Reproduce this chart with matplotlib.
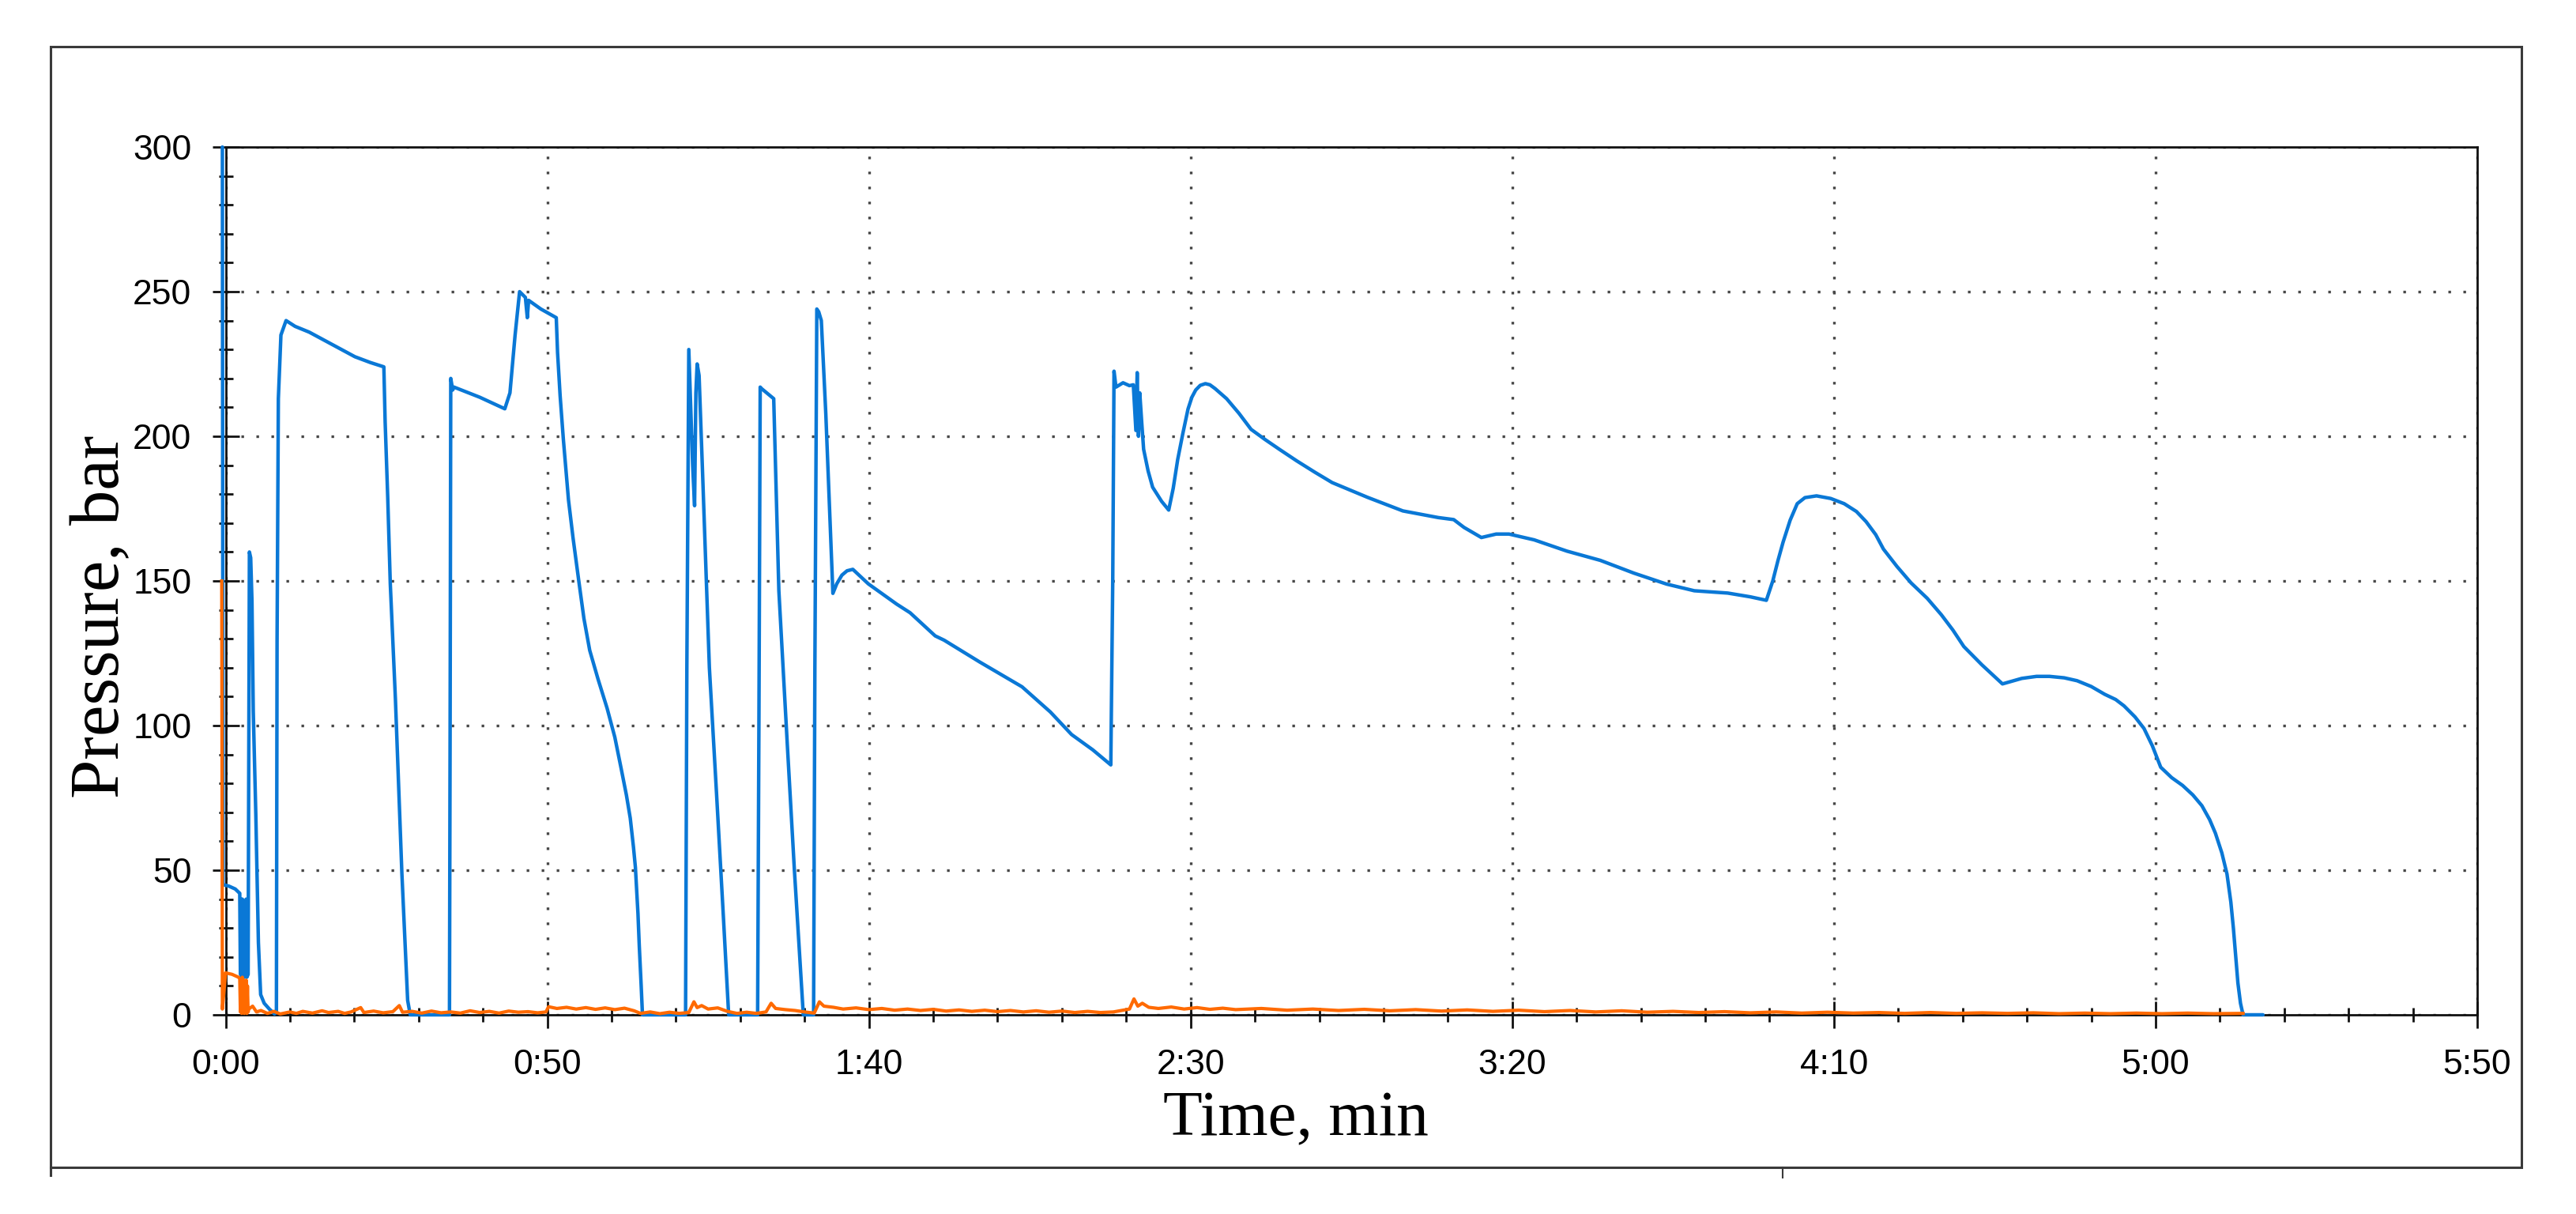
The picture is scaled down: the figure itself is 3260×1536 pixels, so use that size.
import matplotlib
matplotlib.use('Agg')
import matplotlib.pyplot as plt
from matplotlib.ticker import MultipleLocator
from matplotlib.patches import Rectangle
from matplotlib.lines import Line2D

# ---------------- data (time in s, pressure in bar) ----------------
blue_t = [-0.5, -0.4, 0.5, 1.5, 2.2, 2.3, 2.4, 2.5, 2.6, 2.7, 2.8, 2.9, 3.0, 3.1, 3.2, 3.3, 3.5,
          3.7, 3.9, 4.1, 4.3, 4.7, 5.1, 5.45, 6.0, 6.8, 7.6, 7.9, 8.0, 8.2, 8.6, 9.4, 10.8, 13,
          15.5, 18, 20.1, 22.5, 24.6, 24.8, 25.2, 25.6, 26.4, 27.4, 28.3, 28.7, 34.8, 34.9, 35.0,
          35.3, 35.5, 39.5, 43.4, 44.2, 45.0, 45.7, 46.6, 46.9, 47.1, 49, 51.4,
          51.6, 52.0, 52.5, 53.3, 54.0, 54.9, 55.7, 56.6, 57.9, 59.3, 60.5, 61.5, 62.3, 62.9,
          63.4, 63.7, 64.1, 64.3, 64.6, 64.8,
          71.5, 71.7, 72.0, 72.3, 72.6, 72.9, 73.1, 73.3, 73.6, 74.1, 75.2, 76.3, 77.4, 78.2,
          82.7, 82.9, 83.1, 83.3, 85.2, 86.0, 87.3, 88.4, 89.8,
          91.4, 91.6, 91.9, 92.2, 92.6, 93.3, 94.4, 95.0, 95.8, 96.6, 97.5, 98.7, 99.9,
          104.3, 106.4, 110.3, 111.7, 117.2, 123.8, 128.2, 131.5, 134.8, 137.6, 137.9, 138.1,
          138.4, 139.5, 140.5, 141.1, 141.5, 141.7, 141.9, 142.1, 142.4, 142.7, 143.4, 144.1,
          145.5, 146.6, 147.3, 148, 148.8, 149.6, 150.2, 150.8, 151.5, 152.3, 153.0, 153.8,
          155.6, 157.5, 159.4, 161.5, 163.8, 166.5, 169.3, 172, 177.5, 183, 188.5,
          190.9, 192.5, 195.2, 197.5, 199.5, 203.4, 208.5, 213.7, 218.9, 224, 228.3, 233.5, 237,
          239.5, 240.5, 241.3, 242.1, 243.2, 244.3, 245.5, 247.3, 249.5, 251.6, 253.5, 255,
          256.5, 257.7, 259.8, 262, 264.5, 266.7, 268.5, 270.2, 273, 276.2,
          279.2, 281.5, 283.5, 285.8, 287.8, 290, 292.1, 293.8, 295.1, 296.8, 298.2,
          299.5, 300.8, 302.5, 304.2, 305.8, 307.2, 308.4, 309.3, 310.3, 311.1, 311.7, 312.1,
          312.5, 312.8, 313.2, 313.6, 316.7]
blue_p = [300, 45, 44.5, 43.5, 42, 14, 40, 13, 40, 14, 39, 13, 39, 14, 40, 13, 14,
          160, 158, 143, 105, 69, 25, 7, 4, 2, 0.3, 1, 129, 213, 235, 240, 238, 236,
          233, 230, 227.5, 225.5, 224, 205, 179, 149, 109, 49, 5, 0, 0, 100, 220,
          216, 217, 213.5, 209.5, 215, 235, 250, 248, 241, 247, 244, 241,
          229, 214, 199, 178, 165, 150, 137, 126, 116, 106, 96, 85, 76, 68,
          58, 51, 35, 24, 10, 0,
          0, 120, 230, 210, 190, 176, 215, 225, 221, 190, 120, 77, 33, 0,
          0, 100, 217, 216.5, 213, 146.6, 94, 50.6, 0,
          0, 120, 244, 243, 240, 207.7, 145.7, 149, 152, 153.5, 154, 151.5, 149,
          142, 139, 131, 129.5, 122, 113.4, 104.7, 96.9, 91.6, 86.4, 150, 222.5,
          217, 218.5, 217.5, 217.8, 202, 222, 200, 215, 205, 195.5, 188, 182.4,
          177.5, 174.5, 182, 192, 201, 209.4, 213.5, 216, 217.6, 218.2, 217.8, 216.5,
          213, 208, 202.4, 199, 195.5, 191.5, 187.6, 184, 178.9, 174.2, 171.9,
          171.2, 168.5, 165, 166.2, 166.2, 164.2, 160.3, 157.1, 152.7, 148.9, 146.6, 145.8, 144.5,
          143.3, 150, 157, 163.4, 171, 176.7, 178.8, 179.4, 178.5, 176.7, 174, 170.5,
          166, 161, 155, 149.3, 144, 138.3, 133, 127.3, 121, 114.4,
          116.3, 117, 117, 116.5, 115.5, 113.5, 110.8, 109, 106.8, 103, 99,
          93, 85.6, 82, 79.3, 76, 72.3, 67.5, 62.8, 56, 48.7, 39, 29.9,
          19, 11, 4, 0, 0]

orange_t = [-0.6, -0.5, 0.0, 1.0, 2.0, 2.2, 2.3, 2.4, 2.5, 2.6, 2.7, 2.8, 2.9, 3.0, 3.1, 3.2,
            3.3, 3.4, 3.5, 3.6, 4.2, 4.8, 5.5, 6.5, 7.5, 8.5, 10, 11, 12, 13.5, 15, 16, 17.5,
            18.5, 19.5, 21, 21.5, 23, 24.5, 26, 27, 27.5, 29, 30.5, 32, 33.5, 35, 36.5, 38,
            39.5, 41, 42.5, 44, 45.5, 47, 48.5, 49.8, 50.2, 51.5, 53, 54.5, 56, 57.5, 59, 60.5,
            62, 63.5, 64.5, 66, 67.5, 69, 70.5, 72, 72.8, 73.3, 74, 75, 76.5, 78, 79.5, 81,
            82.5, 84, 84.8, 85.5, 87, 88.5, 90, 91.5, 92.3, 93, 94.5, 96, 98, 100, 102, 104,
            106, 108, 110, 112, 114, 116, 118, 120, 122, 124, 126, 128, 130, 132, 134, 136, 138,
            140.5, 141.2, 141.8, 142.5, 143.5, 145, 147, 149, 151, 153, 155, 157, 161, 165, 169,
            173, 177, 181, 185, 189, 193, 197, 201, 205, 209, 213, 217, 221, 225, 229, 233, 237,
            241, 245, 249, 253, 257, 261, 265, 269, 273, 277, 281, 285, 289, 293, 297, 301, 305,
            309, 313.6]
orange_p = [150, 2, 14.5, 14, 13, 12.5, 1, 12, 0.5, 13, 1, 12, 0.5, 11, 1, 12,
            0.5, 10, 1, 2, 3, 1, 1.5, 0.5, 1.2, 0.3, 1, 0.5, 1.2, 0.6, 1.4, 0.8, 1.2,
            0.5, 1.0, 2.5, 0.8, 1.3, 0.7, 1.1, 3.2, 0.9, 1.2, 0.6, 1.3, 0.7, 1.0, 0.6, 1.4,
            0.8, 1.2, 0.6, 1.3, 0.9, 1.1, 0.7, 1.0, 2.8, 2.2, 2.6, 2.0, 2.5, 1.9, 2.4, 1.8,
            2.3, 1.4, 0.5, 1.0, 0.4, 0.9, 0.5, 0.8, 4.5, 2.5, 3.2, 2.0, 2.4, 1.2, 0.5, 0.9,
            0.5, 1.0, 4.0, 2.2, 1.8, 1.5, 1.0, 0.6, 4.5, 3.0, 2.6, 2.0, 2.4, 1.8, 2.2, 1.6,
            2.0, 1.5, 1.9, 1.3, 1.7, 1.2, 1.6, 1.1, 1.5, 1.0, 1.4, 0.9, 1.3, 0.8, 1.2, 0.8, 1.0,
            2.0, 5.5, 3.0, 4.0, 2.6, 2.2, 2.7, 2.0, 2.5, 1.9, 2.3, 1.8, 2.2, 1.6, 2.0,
            1.5, 1.9, 1.4, 1.8, 1.3, 1.7, 1.2, 1.6, 1.1, 1.5, 1.0, 1.4, 0.9, 1.2, 0.8, 1.1, 0.7,
            1.0, 0.6, 0.9, 0.6, 0.8, 0.5, 0.8, 0.5, 0.7, 0.5, 0.7, 0.4, 0.6, 0.4, 0.6, 0.4, 0.6,
            0.4, 0.5]

x_ticks = [0, 50, 100, 150, 200, 250, 300, 350]
x_tick_labels = ['0:00', '0:50', '1:40', '2:30', '3:20', '4:10', '5:00', '5:50']
y_ticks = [0, 50, 100, 150, 200, 250, 300]
x_label = 'Time, min'
y_label = 'Pressure, bar'

# ---------------- figure ----------------
W, H = 3260, 1536
fig = plt.figure(figsize=(W / 100, H / 100), dpi=100)
fig.patch.set_facecolor('white')

ax_l, ax_r, ax_t, ax_b = 285.5, 3135, 186, 1284
ax = fig.add_axes([ax_l / W, 1 - ax_b / H, (ax_r - ax_l) / W, (ax_b - ax_t) / H])

ax.plot(blue_t, blue_p, color='#0A78D6', lw=3.2, zorder=3, clip_on=False,
        solid_joinstyle='round', solid_capstyle='round')
ax.plot(orange_t, orange_p, color='#FF6A00', lw=3.0, zorder=3.1, clip_on=False,
        solid_joinstyle='round')

ax.set_xlim(0, 350)
ax.set_ylim(0, 300)
ax.set_xticks(x_ticks)
ax.set_xticklabels(x_tick_labels)
ax.set_yticks(y_ticks)
ax.xaxis.set_minor_locator(MultipleLocator(10))
ax.yaxis.set_minor_locator(MultipleLocator(10))

ax.tick_params(which='major', direction='inout', length=24, width=2.0, pad=19,
               labelsize=32, color='#111111', labelcolor='#000000')
ax.tick_params(which='minor', direction='inout', length=13, width=2.0, color='#111111')
for lab in ax.get_xticklabels() + ax.get_yticklabels():
    lab.set_fontfamily('Liberation Sans')

ax.grid(True, which='major', color='#474747', lw=2.4, linestyle=(0, (1, 4.7)))
ax.set_axisbelow(True)
for s in ax.spines.values():
    s.set_linewidth(2.0)
    s.set_color('#111111')

# axis titles
fig.text(1640 / W, 1 - 1436 / H, x_label, ha='center', va='baseline',
         fontsize=58.5, family='Liberation Serif')
fig.text(150 / W, 1 - 780 / H, y_label, rotation=90, rotation_mode='anchor',
         ha='center', va='baseline', fontsize=64, family='Liberation Serif')

# outer frame
fr_l, fr_r, fr_t, fr_b = 64, 3191, 59, 1477
fig.add_artist(Rectangle((fr_l / W, 1 - fr_b / H), (fr_r - fr_l) / W, (fr_b - fr_t) / H,
                         transform=fig.transFigure, fill=False, lw=2.2, ec='#3a3a3a'))
fig.add_artist(Line2D([fr_l / W, fr_l / W], [1 - fr_b / H, 1 - 1487 / H],
                      transform=fig.transFigure, lw=2.2, color='#3a3a3a'))
fig.add_artist(Line2D([2256 / W, 2256 / W], [1 - fr_b / H, 1 - 1490 / H],
                      transform=fig.transFigure, lw=1.5, color='#3a3a3a'))

fig.savefig('out.png', dpi=100)
